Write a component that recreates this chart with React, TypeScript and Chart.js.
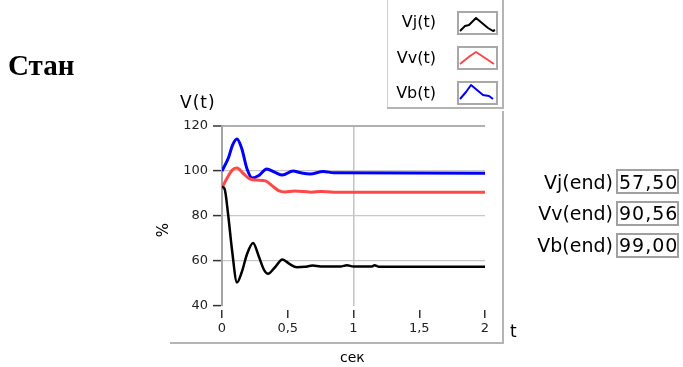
import React, { useEffect, useRef } from "react";
import { Chart, registerables } from "chart.js";

Chart.register(...registerables);

// Time samples (s) and values for each state curve
const timesVj = [0, 0.02, 0.046, 0.076, 0.114, 0.15, 0.19, 0.236, 0.28, 0.32, 0.35, 0.4, 0.46, 0.51, 0.57, 0.63, 0.69, 0.75, 0.9, 0.95, 1.0, 1.14, 1.16, 1.19, 2.0];
const valuesVj = [93, 92, 81, 65, 50.5, 55, 63, 68, 62, 56, 54.3, 57, 60.7, 58.8, 57.2, 57.4, 58, 57.6, 57.6, 58.1, 57.6, 57.6, 58.1, 57.5, 57.5];

const timesVv = [0, 0.04, 0.08, 0.115, 0.16, 0.21, 0.26, 0.33, 0.38, 0.43, 0.48, 0.55, 0.62, 0.68, 0.75, 0.85, 2.0];
const valuesVv = [92.5, 97, 100.5, 101.3, 99, 96.5, 96, 95.6, 93.5, 91.3, 90.7, 91.1, 90.9, 90.6, 90.9, 90.6, 90.56];

const timesVb = [0, 0.05, 0.08, 0.114, 0.15, 0.19, 0.23, 0.28, 0.34, 0.4, 0.46, 0.54, 0.6, 0.67, 0.77, 0.85, 2.0];
const valuesVb = [100, 106, 111.5, 114.2, 110, 101, 96.9, 98, 100.9, 99.5, 98.2, 100, 99.2, 98.7, 99.8, 99.2, 99.0];

const xTicks = [0, 0.5, 1, 1.5, 2];
const yTicks = [40, 60, 80, 100, 120];

const seriesNames = ["Vj(t)", "Vv(t)", "Vb(t)"];
const seriesColors = ["#000000", "#ff4848", "#0000ff"];
const endLabels = ["Vj(end)", "Vv(end)", "Vb(end)"];
const endValues = [57.5, 90.56, 99.0];

const toPoints = (ts: number[], vs: number[]) => ts.map((t, i) => ({ x: t, y: vs[i] }));
const fmt = (v: number) => String(v).replace(".", ",");

// small zigzag glyphs drawn inside the legend boxes
const legendGlyphs = [
  "3,20 8,15 12,14 19,7 25,12 31,17 36,20 38,19",
  "3,18 8,14 13,10 19,6 25,10 31,14 37,18",
  "3,18 9,11 14,4 20,9 26,14 32,15 36,18",
];

const SANS = "'DejaVu Sans', sans-serif";

function Text(props: {
  x: number; y: number; size: number; align?: "left" | "right";
  bold?: boolean; family?: string; spacing?: number; children: React.ReactNode;
}) {
  const { x, y, size, align = "left", bold, family = SANS, spacing = 0 } = props;
  const style: React.CSSProperties = {
    position: "absolute",
    top: y - 0.48 * size,
    fontSize: size,
    lineHeight: `${size}px`,
    fontFamily: family,
    fontWeight: bold ? 700 : 400,
    letterSpacing: spacing,
    color: "#000",
    whiteSpace: "nowrap",
  };
  if (align === "right") style.right = 683 - x;
  else style.left = x;
  return <div style={style}>{props.children}</div>;
}

export default function App() {
  const canvasRef = useRef<HTMLCanvasElement | null>(null);

  useEffect(() => {
    const canvas = canvasRef.current;
    if (!canvas) return;
    const chart = new Chart(canvas, {
      type: "line",
      data: {
        datasets: [
          { label: seriesNames[0], data: toPoints(timesVj, valuesVj), borderColor: seriesColors[0], borderWidth: 2.5 },
          { label: seriesNames[1], data: toPoints(timesVv, valuesVv), borderColor: seriesColors[1], borderWidth: 3 },
          { label: seriesNames[2], data: toPoints(timesVb, valuesVb), borderColor: seriesColors[2], borderWidth: 3 },
        ].map((d) => ({ ...d, pointRadius: 0, cubicInterpolationMode: "monotone" as const, fill: false })),
      },
      options: {
        responsive: false,
        animation: false,
        devicePixelRatio: 1,
        parsing: false,
        layout: { padding: { left: 0, top: 126, right: 198, bottom: 0 } },
        plugins: { legend: { display: false }, tooltip: { enabled: false } },
        scales: {
          x: {
            type: "linear",
            min: 0,
            max: 2,
            afterBuildTicks: (s: any) => { s.ticks = xTicks.map((v) => ({ value: v })); },
            afterFit: (s: any) => { s.height = 61; },
            border: { display: false },
            grid: {
              color: (ctx: any) => (ctx.tick && ctx.tick.value === 1 ? "#c4c4c4" : "rgba(0,0,0,0)"),
              lineWidth: 1.5,
              tickColor: "#333",
              tickLength: 12,
              tickWidth: 1.5,
              tickBorderDash: [8, 4],
              tickBorderDashOffset: 8,
            } as any,
            ticks: {
              color: "#222",
              font: { family: "DejaVu Sans", size: 13 },
              padding: 3,
              maxRotation: 0,
              autoSkip: false,
              callback: (v: any) => fmt(Number(v)),
            },
          },
          y: {
            type: "linear",
            min: 40,
            max: 120,
            afterBuildTicks: (s: any) => { s.ticks = yTicks.map((v) => ({ value: v })); },
            afterFit: (s: any) => { s.width = 222; },
            border: { color: "#a4a4a4", width: 2 },
            grid: {
              color: (ctx: any) => {
                const v = ctx.tick && ctx.tick.value;
                if (v === 40) return "rgba(0,0,0,0)";
                return v === 120 ? "#b0b0b0" : "#c8c8c8";
              },
              lineWidth: (ctx: any) => (ctx.tick && ctx.tick.value === 120 ? 2 : 1.2),
              tickColor: "#333",
              tickLength: 9,
              tickWidth: 1.5,
            },
            ticks: {
              color: "#222",
              font: { family: "DejaVu Sans", size: 13 },
              padding: 5,
              callback: (v: any) => String(v),
            },
          },
        },
      },
    });
    return () => chart.destroy();
  }, []);

  const line = (l: number, t: number, w: number, h: number, c = "#b4b4b4"): React.CSSProperties => ({
    position: "absolute", left: l, top: t, width: w, height: h, background: c,
  });

  return (
    <div style={{ position: "fixed", left: 0, top: 0, width: 683, height: 367, background: "#fff", overflow: "hidden" }}>
      <canvas ref={canvasRef} width={683} height={367} style={{ position: "absolute", left: 0, top: 0, width: 683, height: 367 }} />

      <Text x={8} y={65} size={29} bold family="'Liberation Serif', serif">Стан</Text>

      {/* legend panel */}
      <div style={line(387, 0, 1, 109, "#d0d0d0")} />
      <div style={line(502, 0, 2, 109)} />
      <div style={line(387, 107, 117, 2)} />
      {seriesNames.map((name, i) => (
        <React.Fragment key={name}>
          <Text x={436} y={[22, 58, 93][i]} size={16} align="right">{name}</Text>
          <div style={{
            position: "absolute", left: 457, top: [11, 46, 81][i], width: 37, height: 20,
            border: "2px solid #a8a8a8", background: "#fff",
          }}>
            <svg width={41} height={24} style={{ position: "absolute", left: -2, top: -2 }}>
              <polyline points={legendGlyphs[i]} fill="none" stroke={seriesColors[i]} strokeWidth={2} strokeLinejoin="round" />
            </svg>
          </div>
        </React.Fragment>
      ))}

      {/* plot frame */}
      <div style={line(502, 111, 2, 233)} />
      <div style={line(170, 342, 334, 2)} />

      {/* axis titles */}
      <Text x={180} y={102} size={17} spacing={1}>V(t)</Text>
      <div style={{
        position: "absolute", left: 163 - 10, top: 230 - 8, width: 20, height: 16, lineHeight: "16px",
        fontFamily: SANS, fontSize: 15, color: "#000", textAlign: "center", transform: "rotate(-90deg)",
      }}>%</div>
      <Text x={340} y={357} size={14}>сек</Text>
      <Text x={510} y={331} size={17}>t</Text>

      {/* end values */}
      {endLabels.map((name, i) => (
        <React.Fragment key={name}>
          <Text x={613} y={[182, 213.5, 245][i]} size={19} align="right">{name}</Text>
          <div style={{
            position: "absolute", left: 616, top: [169, 201, 233][i], width: 59, height: 21,
            border: "2px solid #a0a0a0", background: "#fff",
          }} />
          <Text x={619} y={[182, 213.5, 245][i]} size={19} spacing={1}>{endValues[i].toFixed(2).replace(".", ",")}</Text>
        </React.Fragment>
      ))}
    </div>
  );
}
